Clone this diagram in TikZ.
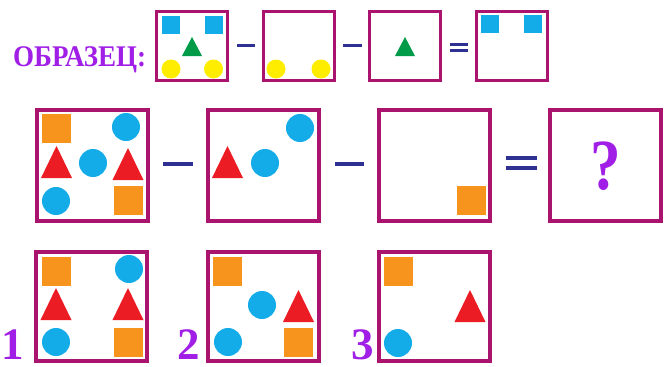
\documentclass[tikz,border=0pt]{standalone}
\usepackage{fontspec}
\setmainfont{Liberation Serif}
\definecolor{frm}{RGB}{170,20,110}
\definecolor{vio}{RGB}{160,30,230}
\definecolor{navy}{RGB}{46,49,146}
\definecolor{cblue}{RGB}{20,172,232}
\definecolor{corange}{RGB}{247,148,29}
\definecolor{cred}{RGB}{236,28,36}
\definecolor{cgreen}{RGB}{0,155,72}
\definecolor{cyellow}{RGB}{255,237,0}
\tikzset{
  frameS/.style={draw=frm, line width=3pt, minimum width=71pt, minimum height=69pt, inner sep=0pt},
  frameL/.style={draw=frm, line width=4pt, minimum width=111pt, minimum height=111pt, inner sep=0pt},
  frameB/.style={draw=frm, line width=4pt, minimum width=111pt, minimum height=109pt, inner sep=0pt},
  sqS/.style={rectangle, fill=cblue, minimum size=18pt, inner sep=0pt},
  sqL/.style={rectangle, fill=corange, minimum size=29pt, inner sep=0pt},
  ciS/.style={circle, fill=cyellow, minimum size=19pt, inner sep=0pt},
  ciL/.style={circle, fill=cblue, minimum size=28pt, inner sep=0pt},
  op/.style={draw=navy, line width=3pt},
  opL/.style={draw=navy, line width=4pt},
  lab/.style={text=vio, font=\bfseries\fontsize{45}{45}\selectfont, inner sep=0pt, text depth=0pt, anchor=base west},
  triL/.pic={\fill[cred] (-15.5,0) -- (15.5,0) -- (0,-32) -- cycle;},
  triS/.pic={\fill[cgreen] (-10,0) -- (10,0) -- (0,-19) -- cycle;}
}
\begin{document}
\begin{tikzpicture}[x=1pt,y=-1pt]
\useasboundingbox (0,0) rectangle (670,367);
% sample row
\node[text=vio, font=\bfseries\fontsize{30}{30}\selectfont, inner sep=0pt, text depth=0pt, anchor=base west, xscale=0.9] (title) at (13,66) {ОБРАЗЕЦ:};
\node[frameS] (s1) at (192,46) {};
\node[frameS] (s2) at (299,46) {};
\node[frameS] (s3) at (405,46) {};
\node[frameS] (s4) at (512,46) {};
\node[sqS] (s1a) at (170.5,24.5) {};
\node[sqS] (s1b) at (213.5,24.5) {};
\pic at (192,56) {triS};
\node[ciS] (s1c) at (171,69) {};
\node[ciS] (s1d) at (213.5,69) {};
\node[ciS] (s2c) at (276,69) {};
\node[ciS] (s2d) at (321,69) {};
\pic at (405,56) {triS};
\node[sqS] (s4a) at (489.5,24) {};
\node[sqS] (s4b) at (533,24) {};
\coordinate (m1a) at (237,45); \coordinate (m1b) at (255,45);
\draw[op] (m1a) -- (m1b);
\coordinate (m2a) at (343,45); \coordinate (m2b) at (362,45);
\draw[op] (m2a) -- (m2b);
\coordinate (e1a) at (450,44); \coordinate (e1b) at (468,44);
\coordinate (e2a) at (450,50); \coordinate (e2b) at (468,50);
\draw[op] (e1a) -- (e1b);
\draw[op] (e2a) -- (e2b);
% main row
\node[frameL] (A) at (92.5,165.5) {};
\node[frameL] (B) at (263.5,165.5) {};
\node[frameL] (C) at (434.5,165.5) {};
\node[frameL] (D) at (605.5,165.5) {};
\node[sqL] (Aa) at (56.5,128.5) {};
\node[ciL] (Ab) at (126,127) {};
\pic at (56.5,178) {triL};
\node[ciL] (Ac) at (93,163) {};
\pic at (128,180) {triL};
\node[ciL] (Ad) at (56,201) {};
\node[sqL] (Ae) at (128,200) {};
\node[ciL] (Ba) at (300,128) {};
\pic at (227.5,178) {triL};
\node[ciL] (Bb) at (265,163) {};
\node[sqL] (Ca) at (471,200) {};
\coordinate (n1a) at (163,164); \coordinate (n1b) at (193,164);
\draw[opL] (n1a) -- (n1b);
\coordinate (n2a) at (335,164); \coordinate (n2b) at (364,164);
\draw[opL] (n2a) -- (n2b);
\coordinate (q1a) at (506,158); \coordinate (q1b) at (537,158);
\coordinate (q2a) at (506,168); \coordinate (q2b) at (537,168);
\draw[opL] (q1a) -- (q1b);
\draw[opL] (q2a) -- (q2b);
\node[text=vio, font=\bfseries\fontsize{72}{72}\selectfont, inner sep=0pt, text depth=0pt, anchor=base, xscale=0.85] (q) at (606,189) {?};
% answers row
\node[frameB] (P1) at (91.5,306.5) {};
\node[frameB] (P2) at (263,306.5) {};
\node[frameB] (P3) at (434.5,306.5) {};
\node[lab] (L1) at (1,359) {1};
\node[lab] (L2) at (177,359) {2};
\node[lab] (L3) at (351,359) {3};
\node[sqL] (P1a) at (56,271) {};
\node[ciL] (P1b) at (129,269) {};
\pic at (56,320) {triL};
\pic at (128,320) {triL};
\node[ciL] (P1c) at (56,342) {};
\node[sqL] (P1d) at (128,342.5) {};
\node[sqL] (P2a) at (227,271) {};
\node[ciL] (P2b) at (262,305) {};
\pic at (298.5,322) {triL};
\node[ciL] (P2c) at (228,342) {};
\node[sqL] (P2d) at (298,342) {};
\node[sqL] (P3a) at (398,271) {};
\pic at (470,322) {triL};
\node[ciL] (P3b) at (398,343) {};
\end{tikzpicture}
\end{document}
